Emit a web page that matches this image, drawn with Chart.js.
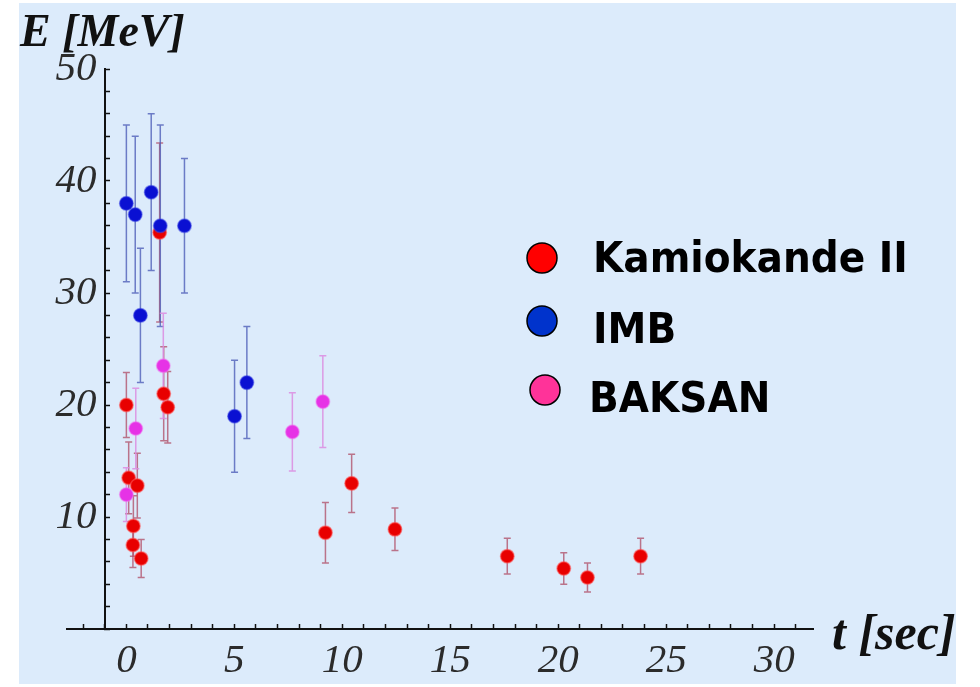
<!DOCTYPE html>
<html>
<head>
<meta charset="utf-8">
<title>SN1987A neutrino events</title>
<script src="https://cdn.jsdelivr.net/npm/chart.js@4.4.1/dist/chart.umd.min.js"></script>
<style>
  body { margin: 0; background: #ffffff; }
  #wrap { width: 980px; height: 687px; }
</style>
</head>
<body>
<div id="wrap"><canvas id="myChart" width="980" height="687"></canvas></div>
<script>
// Kamiokande II events: time [s], energy [MeV], error [MeV]
const kamT = [0, 0.107, 0.303, 0.324, 0.507, 0.686, 1.541, 1.728, 1.915, 9.219, 10.433, 12.439, 17.641, 20.257, 21.355, 23.814];
const kamE = [20.0, 13.5, 7.5, 9.2, 12.8, 6.3, 35.4, 21.0, 19.8, 8.6, 13.0, 8.9, 6.5, 5.4, 4.6, 6.5];
const kamErr = [2.9, 3.2, 2.0, 2.7, 2.9, 1.7, 8.0, 4.2, 3.2, 2.7, 2.6, 1.9, 1.6, 1.4, 1.3, 1.6];

// IMB events
const imbT = [0, 0.41, 0.65, 1.15, 1.57, 2.69, 5.01, 5.58];
const imbE = [38, 37, 28, 39, 36, 36, 19, 22];
const imbErr = [7, 7, 6, 7, 9, 6, 5, 5];

// BAKSAN events
const bakT = [0, 0.435, 1.710, 7.687, 9.099];
const bakE = [12.0, 17.9, 23.5, 17.6, 20.3];
const bakErr = [2.4, 3.6, 4.7, 3.5, 4.1];

// axis tick labels
const xTickLabels = [0, 5, 10, 15, 20, 25, 30];
const yTickLabels = [10, 20, 30, 40, 50];

const toPoints = (ts, es) => ts.map((t, i) => ({ x: t, y: es[i] }));

// light blue panel behind the plot
const panel = {
    id: 'panel',
    beforeDraw(chart) {
        const ctx = chart.ctx;
        ctx.save();
        ctx.fillStyle = '#ffffff';
        ctx.fillRect(0, 0, chart.width, chart.height);
        ctx.fillStyle = '#dcebfb';
        ctx.fillRect(19, 3, 937, 681);
        ctx.restore();
    }
};

// vertical error bars with small caps
const errorBars = {
    id: 'errorBars',
    beforeDatasetsDraw(chart) {
        const ctx = chart.ctx;
        const xs = chart.scales.x;
        const ys = chart.scales.y;
        ctx.save();
        chart.data.datasets.forEach((ds) => {
            ctx.strokeStyle = ds.barColor;
            ctx.lineWidth = 1.5;
            ds.data.forEach((p, i) => {
                const err = ds.errors[i];
                const x = xs.getPixelForValue(p.x);
                const top = ys.getPixelForValue(p.y + err);
                const bot = ys.getPixelForValue(p.y - err);
                ctx.beginPath();
                ctx.moveTo(x, top);
                ctx.lineTo(x, bot);
                ctx.moveTo(x - 3.5, top);
                ctx.lineTo(x + 3.5, top);
                ctx.moveTo(x - 3.5, bot);
                ctx.lineTo(x + 3.5, bot);
                ctx.stroke();
            });
        });
        ctx.restore();
    }
};

// axis titles and the detector key
const annotations = {
    id: 'annotations',
    afterDraw(chart) {
        const ctx = chart.ctx;
        const xs = chart.scales.x;
        const ys = chart.scales.y;
        ctx.save();
        ctx.fillStyle = '#111111';
        ctx.textAlign = 'left';
        ctx.textBaseline = 'alphabetic';
        ctx.font = 'italic bold 46px "Liberation Serif"';
        ctx.fillText('E [MeV]', 20, 46);
        ctx.font = 'italic bold 50px "Liberation Serif"';
        ctx.fillText('t [sec]', xs.right + 19, ys.getPixelForValue(0) + 20);

        const rows = [
            { cx: 542, cy: 258, tx: 593, ty: 272 },
            { cx: 542, cy: 321, tx: 593, ty: 343 },
            { cx: 545, cy: 390, tx: 589, ty: 412 }
        ];
        chart.data.datasets.forEach((ds, i) => {
            const r = rows[i];
            ctx.beginPath();
            ctx.arc(r.cx, r.cy, 15, 0, Math.PI * 2);
            ctx.fillStyle = ds.keyColor;
            ctx.fill();
            ctx.lineWidth = 1.5;
            ctx.strokeStyle = '#000000';
            ctx.stroke();

            ctx.save();
            ctx.translate(r.tx, r.ty);
            ctx.scale(0.93, 1);
            ctx.font = 'bold 42px "DejaVu Sans"';
            ctx.fillStyle = '#000000';
            ctx.fillText(ds.label, 0, 0);
            ctx.restore();
        });
        ctx.restore();
    }
};

const tickFont = { family: 'Liberation Serif', style: 'italic', size: 41 };

var ctx = document.getElementById('myChart').getContext('2d');

var myChart = new Chart(ctx, {
    type: 'scatter',
    data: {
        datasets: [{
            label: 'Kamiokande II',
            data: toPoints(kamT, kamE),
            errors: kamErr,
            order: 2,
            pointRadius: 6.8,
            pointHoverRadius: 6.8,
            backgroundColor: '#e80000',
            borderColor: 'rgba(255, 90, 90, 0.55)',
            borderWidth: 1.5,
            barColor: 'rgba(175, 75, 100, 0.75)',
            keyColor: '#ff0000'
        }, {
            label: 'IMB',
            data: toPoints(imbT, imbE),
            errors: imbErr,
            order: 0,
            pointRadius: 6.8,
            pointHoverRadius: 6.8,
            backgroundColor: '#0a10d2',
            borderColor: 'rgba(60, 70, 230, 0.5)',
            borderWidth: 1.5,
            barColor: 'rgba(70, 85, 180, 0.75)',
            keyColor: '#0033cc'
        }, {
            label: 'BAKSAN',
            data: toPoints(bakT, bakE),
            errors: bakErr,
            order: 1,
            pointRadius: 6.8,
            pointHoverRadius: 6.8,
            backgroundColor: '#e632e6',
            borderColor: 'rgba(240, 120, 240, 0.5)',
            borderWidth: 1.5,
            barColor: 'rgba(220, 140, 225, 0.85)',
            keyColor: '#ff3399'
        }]
    },
    options: {
        responsive: false,
        animation: false,
        devicePixelRatio: 1,
        layout: {
            padding: { left: 67, right: 167, top: 69, bottom: 58 }
        },
        plugins: {
            legend: { display: false },
            tooltip: { enabled: false }
        },
        scales: {
            x: {
                type: 'linear',
                position: { y: 0 },
                min: -2.75,
                max: 31.8,
                afterFit: (scale) => { scale.height = 0; },
                ticks: {
                    stepSize: 1,
                    includeBounds: false,
                    autoSkip: false,
                    maxRotation: 0,
                    minRotation: 0,
                    padding: 14,
                    color: '#2b2b2b',
                    font: tickFont,
                    callback: (v) => xTickLabels.includes(v) ? String(v) : ''
                },
                grid: {
                    drawOnChartArea: false,
                    drawTicks: true,
                    tickLength: -6,
                    tickWidth: 1.5,
                    tickColor: '#111111'
                },
                border: { color: '#111111', width: 2 }
            },
            y: {
                type: 'linear',
                position: { x: -1 },
                min: 0,
                max: 50,
                afterFit: (scale) => { scale.width = 0; },
                ticks: {
                    stepSize: 2,
                    autoSkip: false,
                    color: '#2b2b2b',
                    font: tickFont,
                    callback: (v) => yTickLabels.includes(v) ? v + '\u2009' : ''
                },
                grid: {
                    drawOnChartArea: false,
                    drawTicks: true,
                    tickLength: -6,
                    tickWidth: 1.5,
                    tickColor: '#111111'
                },
                border: { color: '#111111', width: 2 }
            }
        }
    },
    plugins: [panel, errorBars, annotations]
});

myChart;
</script>
</body>
</html>
